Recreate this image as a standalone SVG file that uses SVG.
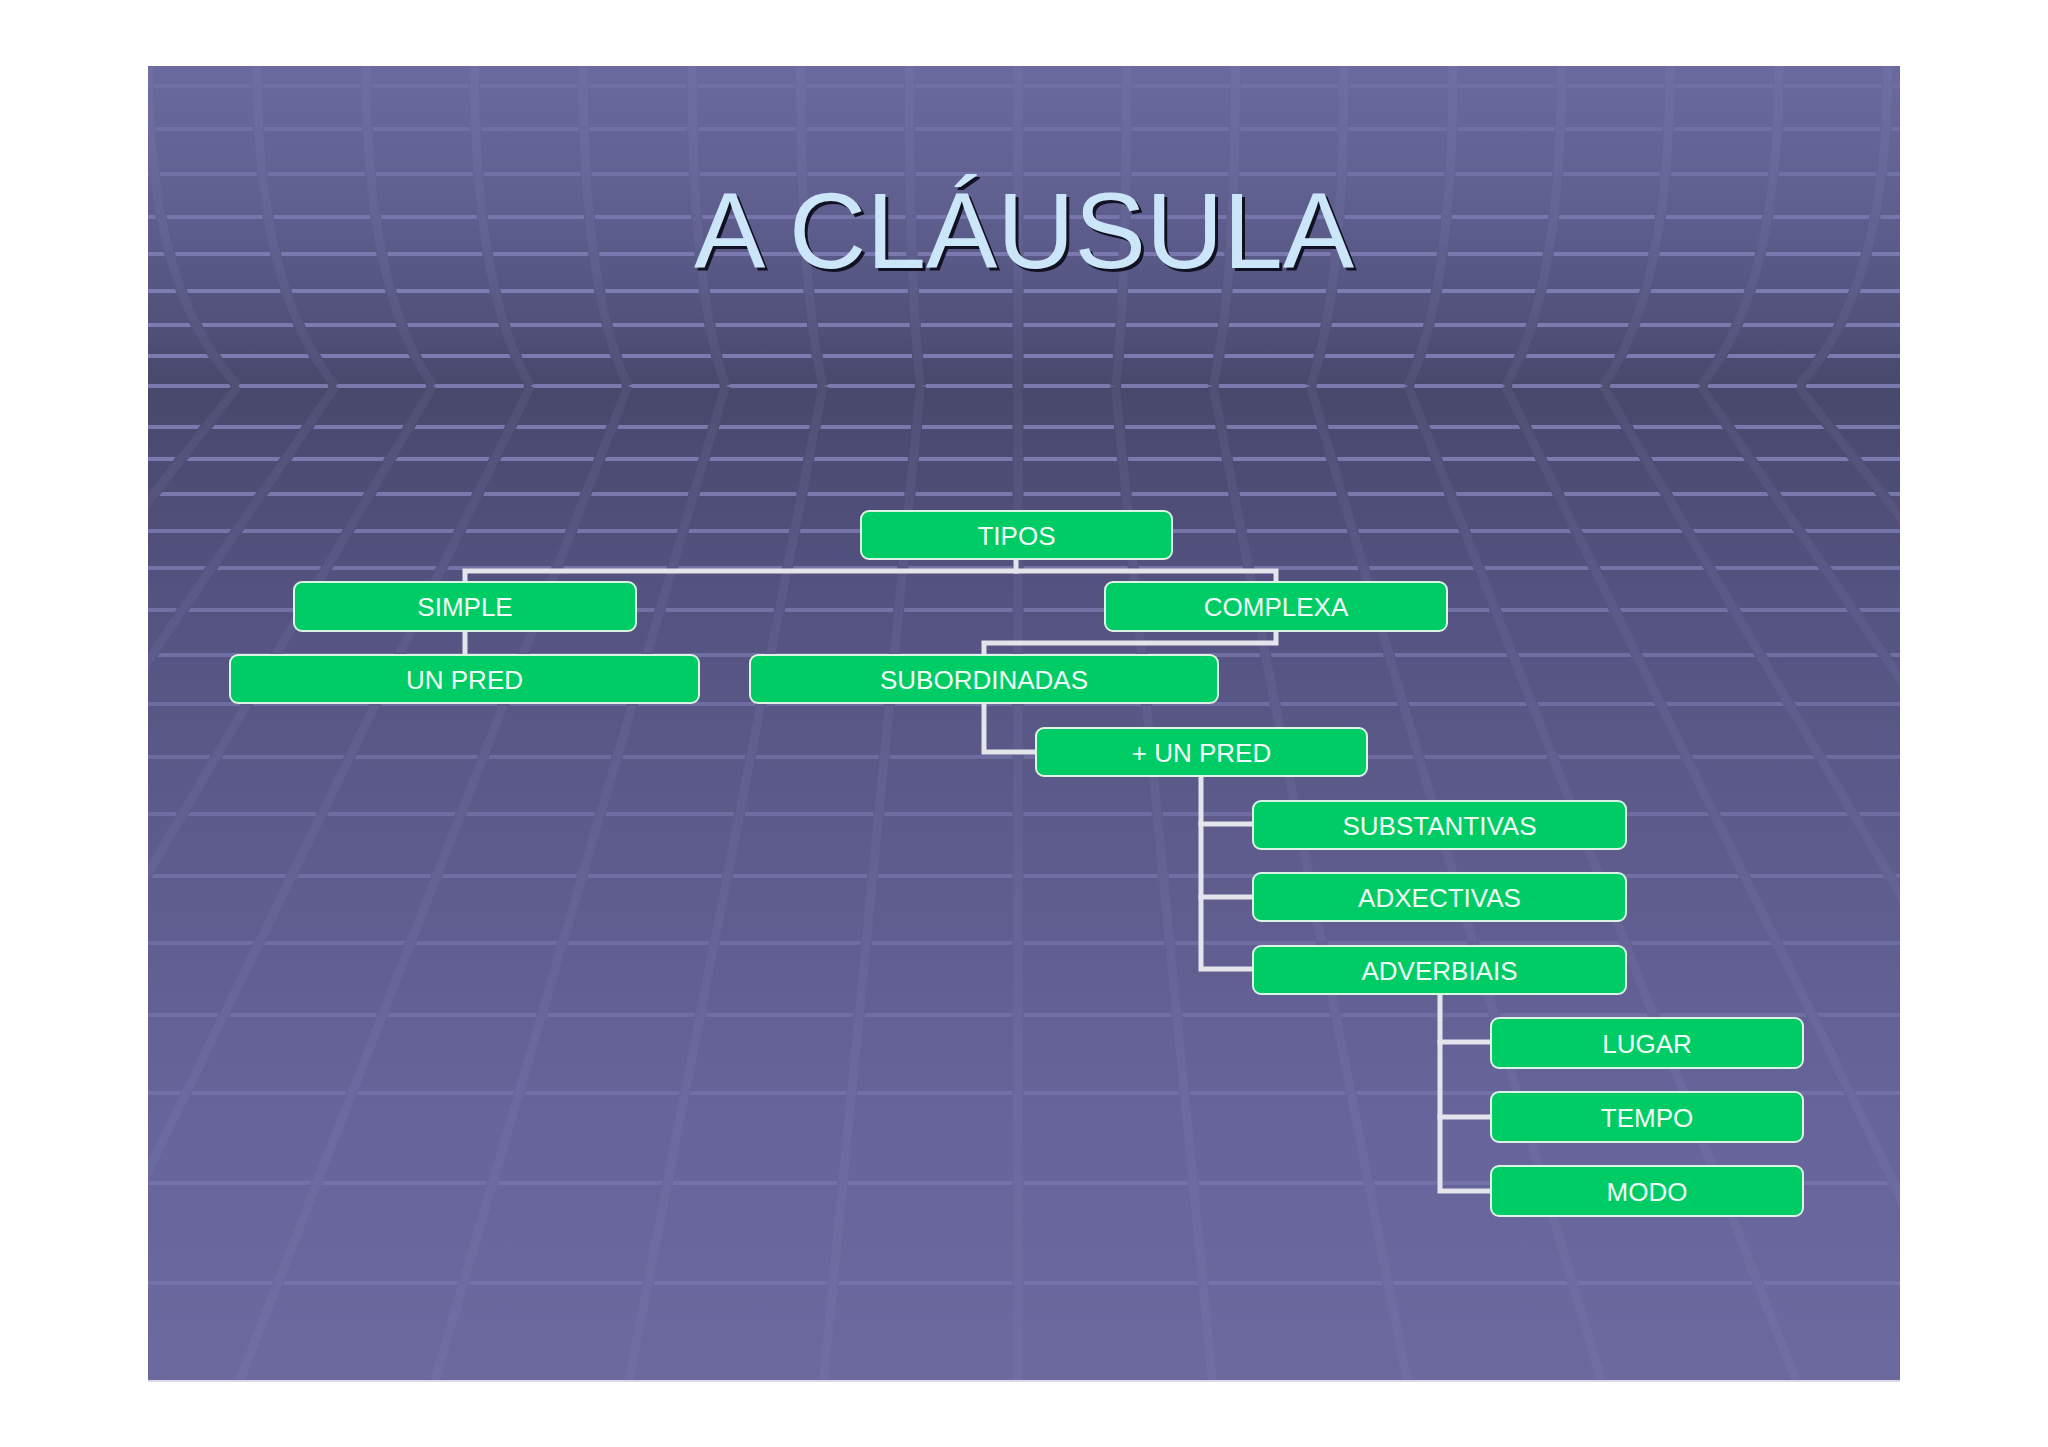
<svg xmlns="http://www.w3.org/2000/svg" width="2048" height="1447" viewBox="0 0 2048 1447">
  <defs>
    <linearGradient id="bg" gradientUnits="userSpaceOnUse" x1="0" y1="66" x2="0" y2="1380">
      <stop offset="0" stop-color="#6A6A9E"/>
      <stop offset="0.13" stop-color="#5C5C8C"/>
      <stop offset="0.245" stop-color="#48486C"/>
      <stop offset="0.4" stop-color="#545280"/>
      <stop offset="0.6" stop-color="#5E5C8C"/>
      <stop offset="0.8" stop-color="#66649A"/>
      <stop offset="1" stop-color="#6B699E"/>
    </linearGradient>
    <clipPath id="slide">
      <rect x="148" y="66" width="1752" height="1314"/>
    </clipPath>
    <path id="slants" d="
        M238,386 Q148.3,290 148.3,66 M238,386 L-537,1380
        M335.5,386 Q257,290 257,66 M335.5,386 L-343,1380
        M433,386 Q366,290 366,66 M433,386 L-148.5,1380
        M530.5,386 Q474.4,290 474.4,66 M530.5,386 L46,1380
        M628,386 Q583,290 583,66 M628,386 L240,1380
        M725.5,386 Q692,290 692,66 M725.5,386 L435,1380
        M823,386 Q800.6,290 800.6,66 M823,386 L629,1380
        M920.5,386 Q909.3,290 909.3,66 M920.5,386 L823.6,1380
        M1018,386 L1018,66 M1018,386 L1018,1380
        M1115.5,386 Q1126.7,290 1126.7,66 M1115.5,386 L1212.4,1380
        M1213,386 Q1235.4,290 1235.4,66 M1213,386 L1407,1380
        M1310.5,386 Q1344,290 1344,66 M1310.5,386 L1601,1380
        M1408,386 Q1453,290 1453,66 M1408,386 L1795.7,1380
        M1505.5,386 Q1561.6,290 1561.6,66 M1505.5,386 L1990,1380
        M1603,386 Q1670,290 1670,66 M1603,386 L2184.5,1380
        M1700.5,386 Q1779,290 1779,66 M1700.5,386 L2379,1380
        M1798,386 Q1887.7,290 1887.7,66 M1798,386 L2573,1380"/>
    <style>
      .hl { stroke: #8A8AC4; stroke-width: 4; fill: none; }
      .gap { stroke: url(#bg); stroke-width: 11; fill: none; }
      .band { stroke: #B0B0E0; stroke-opacity: 0.08; stroke-width: 9; fill: none; }
      .node rect { fill: #00CC66; stroke: #DDF3E4; stroke-width: 2; }
      .node text { font-family: "Liberation Sans", Arial, sans-serif; font-size: 26px; fill: #F2FFF6; text-anchor: middle; }
      .conn path { stroke: #E4E4EC; stroke-width: 5; fill: none; stroke-linejoin: miter; stroke-linecap: square; }
      .title { font-family: "Liberation Sans", Arial, sans-serif; font-size: 107px; text-anchor: middle; }
    </style>
  </defs>

  <rect x="0" y="0" width="2048" height="1447" fill="#FFFFFF"/>
  <line x1="148" y1="1381" x2="1900" y2="1381" stroke="#DADAE8" stroke-width="2"/>

  <g id="background" clip-path="url(#slide)">
    <rect x="148" y="66" width="1752" height="1314" fill="url(#bg)"/>
    <g class="hl">
      <line x1="148" y1="86" x2="1900" y2="86" stroke-opacity="0.2"/>
      <line x1="148" y1="129" x2="1900" y2="129" stroke-opacity="0.3"/>
      <line x1="148" y1="174" x2="1900" y2="174" stroke-opacity="0.4"/>
      <line x1="148" y1="217" x2="1900" y2="217" stroke-opacity="0.55"/>
      <line x1="148" y1="254" x2="1900" y2="254" stroke-opacity="0.65"/>
      <line x1="148" y1="291" x2="1900" y2="291" stroke-opacity="0.75"/>
      <line x1="148" y1="325" x2="1900" y2="325" stroke-opacity="0.75"/>
      <line x1="148" y1="356" x2="1900" y2="356" stroke-opacity="0.75"/>
      <line x1="148" y1="386" x2="1900" y2="386" stroke-opacity="0.75"/>
      <line x1="148" y1="427" x2="1900" y2="427" stroke-opacity="0.75"/>
      <line x1="148" y1="459" x2="1900" y2="459" stroke-opacity="0.75"/>
      <line x1="148" y1="494" x2="1900" y2="494" stroke-opacity="0.7"/>
      <line x1="148" y1="531" x2="1900" y2="531" stroke-opacity="0.65"/>
      <line x1="148" y1="568" x2="1900" y2="568" stroke-opacity="0.6"/>
      <line x1="148" y1="610" x2="1900" y2="610" stroke-opacity="0.55"/>
      <line x1="148" y1="655" x2="1900" y2="655" stroke-opacity="0.5"/>
      <line x1="148" y1="704" x2="1900" y2="704" stroke-opacity="0.45"/>
      <line x1="148" y1="757" x2="1900" y2="757" stroke-opacity="0.4"/>
      <line x1="148" y1="814" x2="1900" y2="814" stroke-opacity="0.4"/>
      <line x1="148" y1="876" x2="1900" y2="876" stroke-opacity="0.4"/>
      <line x1="148" y1="943" x2="1900" y2="943" stroke-opacity="0.35"/>
      <line x1="148" y1="1015" x2="1900" y2="1015" stroke-opacity="0.35"/>
      <line x1="148" y1="1093" x2="1900" y2="1093" stroke-opacity="0.35"/>
      <line x1="148" y1="1183" x2="1900" y2="1183" stroke-opacity="0.35"/>
      <line x1="148" y1="1283" x2="1900" y2="1283" stroke-opacity="0.35"/>
    </g>
    <g id="grid-slants">
      <use href="#slants" class="gap"/>
      <use href="#slants" class="band"/>
    </g>
  </g>

  <g id="title">
    <text class="title" x="1027" y="271" fill="#111122">A CLÁUSULA</text>
    <text class="title" x="1024" y="268" fill="#CCE6F9">A CLÁUSULA</text>
  </g>

  <g id="connectors" class="conn">
    <path d="M1016,559 V571"/>
    <path d="M465,582 V571 H1276 V582"/>
    <path d="M465,631 V655"/>
    <path d="M1276,631 V643 H984 V655"/>
    <path d="M984,703 V752 H1036"/>
    <path d="M1201,776 V969 H1253"/>
    <path d="M1201,824 H1253"/>
    <path d="M1201,897 H1253"/>
    <path d="M1440,994 V1191 H1491"/>
    <path d="M1440,1042 H1491"/>
    <path d="M1440,1117 H1491"/>
  </g>

  <g id="node-tipos" class="node">
    <rect x="861" y="511" width="311" height="48" rx="8"/>
    <text x="1016.5" y="544.5">TIPOS</text>
  </g>
  <g id="node-simple" class="node">
    <rect x="294" y="582" width="342" height="49" rx="8"/>
    <text x="465" y="616">SIMPLE</text>
  </g>
  <g id="node-complexa" class="node">
    <rect x="1105" y="582" width="342" height="49" rx="8"/>
    <text x="1276" y="616">COMPLEXA</text>
  </g>
  <g id="node-unpred" class="node">
    <rect x="230" y="655" width="469" height="48" rx="8"/>
    <text x="464.5" y="688.5">UN PRED</text>
  </g>
  <g id="node-subordinadas" class="node">
    <rect x="750" y="655" width="468" height="48" rx="8"/>
    <text x="984" y="688.5">SUBORDINADAS</text>
  </g>
  <g id="node-masunpred" class="node">
    <rect x="1036" y="728" width="331" height="48" rx="8"/>
    <text x="1201.5" y="761.5">+ UN PRED</text>
  </g>
  <g id="node-substantivas" class="node">
    <rect x="1253" y="801" width="373" height="48" rx="8"/>
    <text x="1439.5" y="834.5">SUBSTANTIVAS</text>
  </g>
  <g id="node-adxectivas" class="node">
    <rect x="1253" y="873" width="373" height="48" rx="8"/>
    <text x="1439.5" y="906.5">ADXECTIVAS</text>
  </g>
  <g id="node-adverbiais" class="node">
    <rect x="1253" y="946" width="373" height="48" rx="8"/>
    <text x="1439.5" y="979.5">ADVERBIAIS</text>
  </g>
  <g id="node-lugar" class="node">
    <rect x="1491" y="1018" width="312" height="50" rx="8"/>
    <text x="1647" y="1052.5">LUGAR</text>
  </g>
  <g id="node-tempo" class="node">
    <rect x="1491" y="1092" width="312" height="50" rx="8"/>
    <text x="1647" y="1126.5">TEMPO</text>
  </g>
  <g id="node-modo" class="node">
    <rect x="1491" y="1166" width="312" height="50" rx="8"/>
    <text x="1647" y="1200.5">MODO</text>
  </g>
</svg>
